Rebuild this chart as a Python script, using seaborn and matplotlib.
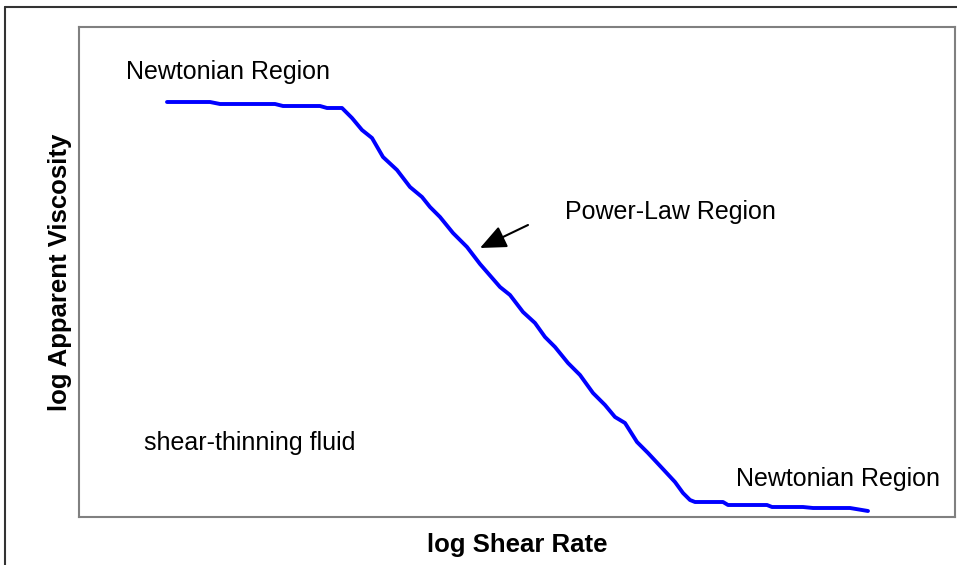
import matplotlib
matplotlib.use("Agg")
import matplotlib.pyplot as plt
from matplotlib.lines import Line2D
import pandas as pd
import seaborn as sns

sns.set_style("white")
plt.rcParams["font.family"] = ["Liberation Sans", "DejaVu Sans"]
plt.rcParams["text.color"] = "black"
plt.rcParams["axes.labelcolor"] = "black"

# flow curve (arbitrary log units)
log_shear = [0.88, 1.31, 1.41, 1.96, 2.04, 2.41, 2.48, 2.63, 2.73, 2.83, 2.93, 3.04,
             3.18, 3.31, 3.43, 3.51, 3.61, 3.74, 3.88, 4.01, 4.21, 4.31, 4.44, 4.56,
             4.66, 4.76, 4.89, 5.01, 5.14, 5.26, 5.36, 5.46, 5.58, 5.69, 5.83, 5.96,
             6.04, 6.11, 6.16, 6.44, 6.49, 6.88, 6.93, 7.24, 7.34, 7.71, 7.89]
log_visc = [4.15, 4.15, 4.13, 4.13, 4.11, 4.11, 4.09, 4.09, 3.99, 3.87, 3.79, 3.60,
            3.47, 3.30, 3.20, 3.10, 3.00, 2.84, 2.70, 2.53, 2.30, 2.22, 2.05, 1.94,
            1.80, 1.70, 1.54, 1.42, 1.24, 1.12, 1.00, 0.94, 0.75, 0.64, 0.49, 0.35,
            0.24, 0.17, 0.15, 0.15, 0.12, 0.12, 0.10, 0.10, 0.09, 0.09, 0.06]

df = pd.DataFrame({"shear": log_shear, "visc": log_visc})

fig = plt.figure(figsize=(9.57, 5.65), dpi=100)
ax = fig.add_axes([79 / 957, 1 - 517 / 565, 876 / 957, 490 / 565])

sns.lineplot(data=df, x="shear", y="visc", sort=False, color="#0000FF",
             linewidth=2.8, ax=ax)

ax.set_xlim(0, 8.76)
ax.set_ylim(0, 4.90)
ax.set_xticks([])
ax.set_yticks([])
for s in ax.spines.values():
    s.set_visible(True)
    s.set_color("#808080")
    s.set_linewidth(1.5)

ax.set_xlabel("log Shear Rate", fontsize=18.5, fontweight="bold")
ax.set_ylabel("log Apparent Viscosity", fontsize=18.5, fontweight="bold")
ax.xaxis.set_label_coords(0.5, -0.033)
ax.yaxis.set_label_coords(-0.008, 0.5)

ax.text(0.47, 4.45, "Newtonian Region", fontsize=18, va="center", ha="left")
ax.text(6.57, 0.38, "Newtonian Region", fontsize=18, va="center", ha="left")
ax.text(4.86, 3.05, "Power-Law Region", fontsize=18, va="center", ha="left")
ax.text(0.65, 0.74, "shear-thinning fluid", fontsize=18, va="center", ha="left")

ax.annotate("", xy=(4.01, 2.69), xytext=(4.49, 2.92),
            arrowprops=dict(arrowstyle="-|>,head_length=0.8,head_width=0.35",
                            mutation_scale=20, color="black", lw=1.5,
                            shrinkA=0, shrinkB=0))

# outer chart frame (only left and top edges fall inside the picture)
fig.add_artist(Line2D([5 / 957, 5 / 957], [0, 1 - 7 / 565], color="#333333", lw=1.5))
fig.add_artist(Line2D([5 / 957, 1], [1 - 7 / 565, 1 - 7 / 565], color="#333333", lw=1.5))

fig.savefig("out.png", dpi=100)
